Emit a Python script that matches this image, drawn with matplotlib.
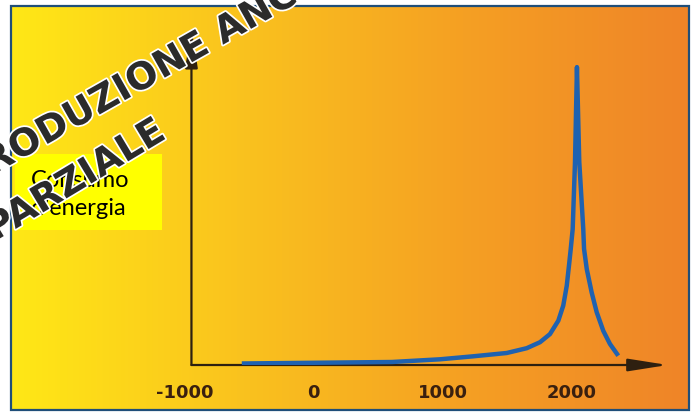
import numpy as np
import matplotlib.pyplot as plt
from matplotlib.patches import Rectangle
import matplotlib.patheffects as pe

# dati (anni, consumo in unita' arbitrarie)
anni = [-557, 606, 978, 1236, 1495, 1650, 1753, 1830, 1895, 1933, 1960, 1980, 1991,
        2006, 2024, 2039,
        2057, 2088, 2094, 2115, 2153, 2192, 2243, 2295, 2359]
consumo = [0.5, 1.0, 1.9, 2.9, 4.0, 5.6, 7.6, 10.3, 14.8, 19.8, 26.4, 34.2, 38.7,
           45.3, 67.7, 99.3,
           67.7, 45.3, 38.7, 32.0, 24.2, 17.6, 11.4, 7.0, 3.1]
tick_anni = [-1000, 0, 1000, 2000]
tick_label = ['-1000', '0', '1000', '2000']
etichetta_y = 'Consumo\nd\u2019energia'
filigrana = ['RIPRODUZIONE ANCHE', 'PARZIALE']

W, H = 693, 414
fig = plt.figure(figsize=(W / 100, H / 100), dpi=100)

# sfondo in pixel
bg = fig.add_axes([0, 0, 1, 1], zorder=0)
bg.set_xlim(0, W)
bg.set_ylim(H, 0)
bg.axis('off')

stops = np.array([[255, 232, 22], [250, 195, 30], [245, 160, 35], [239, 132, 40]]) / 255
pos = np.linspace(0, 1, len(stops))
t = np.linspace(0, 1, 400)
grad = np.stack([np.interp(t, pos, stops[:, k]) for k in range(3)], axis=-1)[None, :, :]
bg.imshow(grad, extent=[11, 689, 411, 7], aspect='auto', zorder=0)
bg.add_patch(Rectangle((11, 7), 678, 404, fill=False, edgecolor='#1f4e79', lw=1.6, zorder=1))

# riquadro etichetta
bg.add_patch(Rectangle((15, 155), 147, 76, facecolor='#ffff00', edgecolor='none', zorder=2))
bg.text(31, 215, etichetta_y, fontsize=17, family='Lato', va='baseline', ha='left',
        linespacing=1.32, zorder=3)

# grafico
ax = fig.add_axes([171.7 / W, (H - 366) / H, (667.7 - 171.7) / W, (366 - 29) / H], zorder=1)
ax.patch.set_alpha(0)
ax.set_xlim(-1100, 2742)
ax.set_ylim(0, (366 - 29) / 3)
for s in ax.spines.values():
    s.set_visible(False)

asse = dict(arrowstyle='-|>,head_length=2.4,head_width=0.38', color='#2e2010',
            lw=1.6, shrinkA=0, shrinkB=0, mutation_scale=10)
ax.annotate('', xy=(2742, 0), xytext=(-947, 0), arrowprops=asse, annotation_clip=False)
ax.annotate('', xy=(-947, (366 - 29) / 3), xytext=(-947, 0), arrowprops=asse,
            annotation_clip=False)

ax.plot(anni, consumo, color='#1f62b0', lw=3.2, solid_joinstyle='round',
        solid_capstyle='butt', zorder=3)

ax.set_xticks(tick_anni)
ax.set_xticklabels(tick_label, fontsize=13, fontweight='bold', color='#3a200f')
ax.tick_params(axis='x', length=0, pad=13)
ax.set_yticks([])

# filigrana
for testo, (px, py), rot in zip(filigrana, [(135, 84), (76, 182)], [29.5, 31]):
    fig.text(px / W, 1 - py / H, testo, fontsize=27, fontweight='bold', color='#2b2b2b',
             rotation=rot, rotation_mode='anchor', ha='center', va='center', zorder=5,
             path_effects=[pe.withStroke(linewidth=2.5, foreground='white')])

fig.savefig('out.png', dpi=100)
